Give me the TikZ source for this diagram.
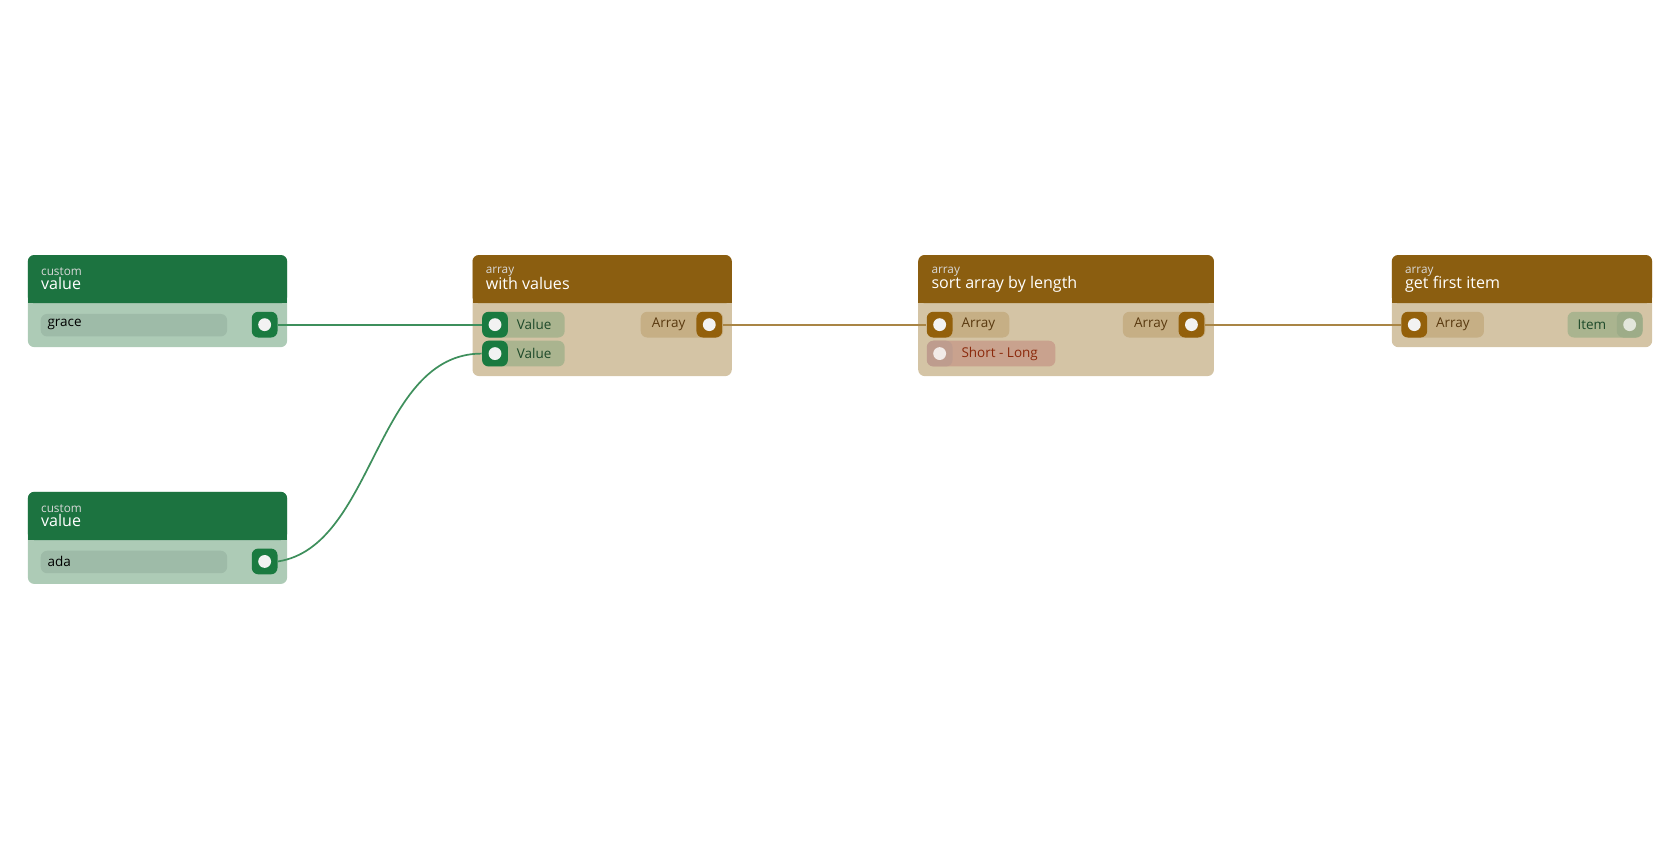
\documentclass[tikz,border=0pt]{standalone}
\usepackage{fontspec}
\setmainfont{Open Sans}
\usepackage{tikz}
\definecolor{GreenHead}{HTML}{1C7340}
\definecolor{GreenBody}{HTML}{ADCBB6}
\definecolor{GreenField}{HTML}{9EBBA8}
\definecolor{GreenPort}{HTML}{1A7A40}
\definecolor{BrownHead}{HTML}{8B5E10}
\definecolor{BrownBody}{HTML}{D4C4A5}
\definecolor{BrownPill}{HTML}{C6AF85}
\definecolor{BrownPort}{HTML}{93600B}
\definecolor{ValuePill}{HTML}{AAB48F}
\definecolor{RosePill}{HTML}{C9A28E}
\definecolor{RosePort}{HTML}{BE9C8E}
\definecolor{ItemPort}{HTML}{9DAC88}
\definecolor{GreenWire}{HTML}{3E8F5C}
\definecolor{BrownWire}{HTML}{A98545}
\definecolor{BrownText}{HTML}{5A3A10}
\definecolor{GreenText}{HTML}{1E4A2A}
\tikzset{
  kind/.style={anchor=west, text=white!85!black, font=\fontsize{5.5}{5.5}\selectfont, inner sep=0pt},
  title/.style={anchor=west, text=white, font=\fontsize{7.5}{7.5}\selectfont, inner sep=0pt},
  label/.style={anchor=west, font=\fontsize{6.3}{6.3}\selectfont, inner sep=0pt},
  port/.style={minimum size=12pt, inner sep=0pt, rounded corners=3pt},
  dot/.style={circle, fill=white!95!black, minimum size=6pt, inner sep=0pt},
}
\begin{document}
\begin{tikzpicture}[x=0.5pt, y=-0.5pt]
\useasboundingbox (0,0) rectangle (1568,784);

% value nodes
\foreach \y/\txt in {238/grace, 459/ada} {
  \fill[GreenBody, rounded corners=3pt] (26,\y) rectangle (268,\y+86);
  \fill[GreenHead, rounded corners=3pt] (26,\y) rectangle (268,\y+45);
  \fill[GreenHead] (26,\y+30) rectangle (268,\y+45);
  \node[kind] at (38,\y+16) {custom};
  \node[title] at (38,\y+27) {value};
  \fill[GreenField, rounded corners=3pt] (38,\y+55) rectangle (212,\y+76);
  \node[label] at (44,\y+65) {\txt};
}
\node[port, fill=GreenPort] (graceOut) at (247,303) {};
\node[dot] at (graceOut) {};
\node[port, fill=GreenPort] (adaOut) at (247,524) {};
\node[dot] at (adaOut) {};

% with values
\fill[BrownBody, rounded corners=3pt] (441,238) rectangle (683,351);
\fill[BrownHead, rounded corners=3pt] (441,238) rectangle (683,283);
\fill[BrownHead] (441,268) rectangle (683,283);
\node[kind] at (453,254) {array};
\node[title] at (453,265) {with values};
\fill[ValuePill, rounded corners=3pt] (450,291) rectangle (527,315);
\fill[ValuePill, rounded corners=3pt] (450,318) rectangle (527,342);
\node[port, fill=GreenPort] (valA) at (462,303) {};
\node[dot] at (valA) {};
\node[port, fill=GreenPort] (valB) at (462,330) {};
\node[dot] at (valB) {};
\node[label, text=GreenText] at (482,303) {Value};
\node[label, text=GreenText] at (482,330) {Value};
\fill[BrownPill, rounded corners=3pt] (598,291) rectangle (675,315);
\node[label, text=BrownText] at (608,303) {Array};
\node[port, fill=BrownPort] (withOut) at (662,303) {};
\node[dot] at (withOut) {};

% sort array by length
\fill[BrownBody, rounded corners=3pt] (857,238) rectangle (1133,351);
\fill[BrownHead, rounded corners=3pt] (857,238) rectangle (1133,283);
\fill[BrownHead] (857,268) rectangle (1133,283);
\node[kind] at (869,254) {array};
\node[title] at (869,265) {sort array by length};
\fill[BrownPill, rounded corners=3pt] (866,291) rectangle (942,315);
\node[port, fill=BrownPort] (sortIn) at (877,303) {};
\node[dot] at (sortIn) {};
\node[label, text=BrownText] at (897,303) {Array};
\fill[RosePill, rounded corners=3pt] (866,318) rectangle (985,342);
\node[port, fill=RosePort] (sortMode) at (877,330) {};
\node[dot, fill=white!80!RosePort] at (sortMode) {};
\node[label, text=BrownText!70!red] at (897,330) {Short - Long};
\fill[BrownPill, rounded corners=3pt] (1048,291) rectangle (1125,315);
\node[label, text=BrownText] at (1058,303) {Array};
\node[port, fill=BrownPort] (sortOut) at (1112,303) {};
\node[dot] at (sortOut) {};

% get first item
\fill[BrownBody, rounded corners=3pt] (1299,238) rectangle (1542,324);
\fill[BrownHead, rounded corners=3pt] (1299,238) rectangle (1542,283);
\fill[BrownHead] (1299,268) rectangle (1542,283);
\node[kind] at (1311,254) {array};
\node[title] at (1311,265) {get first item};
\fill[BrownPill, rounded corners=3pt] (1308,291) rectangle (1385,315);
\node[port, fill=BrownPort] (firstIn) at (1320,303) {};
\node[dot] at (firstIn) {};
\node[label, text=BrownText] at (1340,303) {Array};
\fill[ValuePill, rounded corners=3pt] (1463,291) rectangle (1533,315);
\node[label, text=GreenText] at (1472,303) {Item};
\node[port, fill=ItemPort] (firstOut) at (1521,303) {};
\node[dot, fill=white!70!ItemPort] at (firstOut) {};

% wires
\draw[GreenWire, thick] (graceOut.east) -- (valA.west);
\draw[GreenWire, thick] (adaOut.east) .. controls (350,510) and (350,330) .. (valB.west);
\draw[BrownWire, thick] (withOut.east) -- (sortIn.west);
\draw[BrownWire, thick] (sortOut.east) -- (firstIn.west);
\end{tikzpicture}
\end{document}
